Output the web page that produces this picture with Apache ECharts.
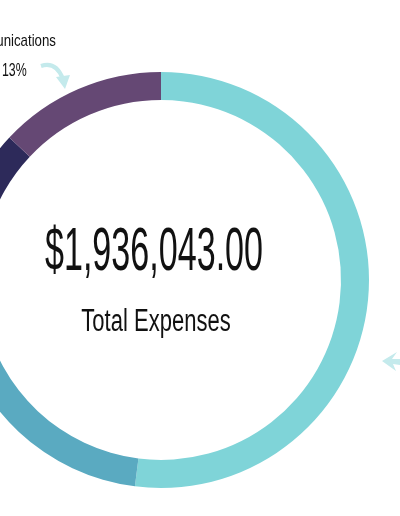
<!DOCTYPE html>
<html>
<head>
<meta charset="utf-8">
<script src="https://cdn.jsdelivr.net/npm/echarts@6/dist/echarts.min.js"></script>
<style>
  html, body { margin: 0; padding: 0; background: #fff; }
  #expensesChart { width: 400px; height: 516px; }
</style>
</head>
<body>
<div id="expensesChart"></div>
<script>
  // shares of total expenses, clockwise from 12 o'clock
  const categories = ['Programs', 'Operations', 'Administration', 'Communications'];
  const shares = [52, 20, 15, 13];
  const colors = ['#7fd4d8', '#5aaac1', '#2d2a5a', '#654874'];
  const totalText = '$1,936,043.00';
  const totalLabel = 'Total Expenses';

  const font = '"Liberation Sans Narrow", "Liberation Sans", sans-serif';
  const sum = shares.reduce((a, b) => a + b, 0);
  const commPct = Math.round(shares[3] / sum * 100) + '%';

  const myChart = echarts.init(document.getElementById('expensesChart'));

  const option = {
    animation: false,
    backgroundColor: '#ffffff',
    series: [{
      type: 'pie',
      center: [161, 280],
      radius: [180, 208],
      startAngle: 90,
      clockwise: true,
      silent: true,
      label: { show: false },
      labelLine: { show: false },
      itemStyle: { borderWidth: 0 },
      data: categories.map((name, i) => ({
        name: name,
        value: shares[i],
        itemStyle: { color: colors[i] }
      }))
    }],
    graphic: [
      {
        type: 'text', x: 154, y: 253, scaleX: 0.55,
        style: {
          x: 0, y: 0, text: totalText, fill: '#111',
          font: '62px ' + font, textAlign: 'center', textVerticalAlign: 'middle'
        }
      },
      {
        type: 'text', x: 156, y: 322, scaleX: 0.71,
        style: {
          x: 0, y: 0, text: totalLabel, fill: '#111',
          font: '31px ' + font, textAlign: 'center', textVerticalAlign: 'middle'
        }
      },
      {
        type: 'text', x: 56, y: 41, scaleX: 0.78,
        style: {
          x: 0, y: 0, text: categories[3], fill: '#111',
          font: '17px ' + font, textAlign: 'right', textVerticalAlign: 'middle'
        }
      },
      {
        type: 'text', x: 2, y: 71, scaleX: 0.65,
        style: {
          x: 0, y: 0, text: commPct, fill: '#111',
          font: '19px ' + font, textAlign: 'left', textVerticalAlign: 'middle'
        }
      },
      // arrow to the communications slice
      {
        type: 'bezierCurve',
        shape: { x1: 41, y1: 66, cpx1: 56, cpy1: 61, x2: 63, y2: 79 },
        style: { stroke: '#c4eaec', lineWidth: 4, fill: null }
      },
      {
        type: 'polygon',
        shape: { points: [[56, 77], [70, 75], [65, 89]] },
        style: { fill: '#c4eaec' }
      },
      // arrow coming in from the right
      {
        type: 'polygon',
        shape: { points: [[382, 361], [397, 352], [392, 359], [400, 359], [400, 365], [393, 364], [396, 371]] },
        style: { fill: '#c4eaec' }
      }
    ]
  };
  myChart.setOption(option);
</script>
</body>
</html>
